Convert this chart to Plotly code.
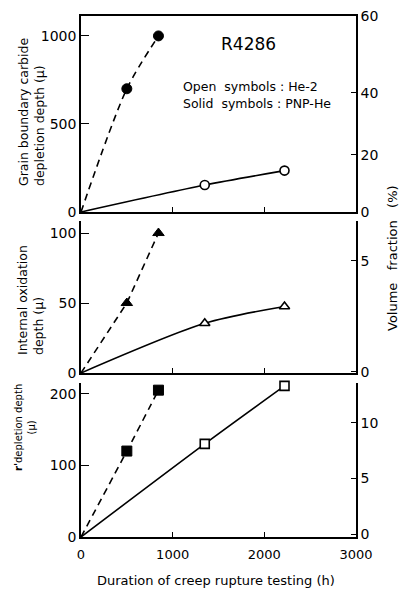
import plotly.graph_objects as go

# ---- data ----
hours_pnp = [0, 500, 845]      # solid symbols (PNP-He)
hours_he2 = [0, 1350, 2220]    # open symbols (He-2)

carbide_pnp = [0, 700, 1000]
carbide_he2 = [0, 153, 235]

oxid_pnp = [0, 50, 100]
oxid_he2 = [0, 35.5, 47.5]

gamma_pnp = [0, 120, 205]
gamma_he2 = [0, 130, 211]

x_ticks = [0, 1000, 2000, 3000]
top_left_ticks = [0, 500, 1000]
top_right_labels = ["0", "20", "40", "60"]
top_right_pos = [0, 324, 676, 1114]   # nonlinear right scale of the original, in left-axis units
mid_left_ticks = [0, 50, 100]
mid_right_ticks = [0, 5]
bot_left_ticks = [0, 100, 200]
bot_right_ticks = [0, 5, 10]

W, H = 403, 594
FONT = "DejaVu Sans"

def px(x):
    return x / W

def py(y):
    return 1 - y / H

fig = go.Figure()

panels = [
    ("x", "y", "y2", hours_pnp, carbide_pnp, hours_he2, carbide_he2, "circle", "spline"),
    ("x2", "y3", "y4", hours_pnp, oxid_pnp, hours_he2, oxid_he2, "triangle-up", "linear"),
    ("x3", "y5", "y6", hours_pnp, gamma_pnp, hours_he2, gamma_he2, "square", "spline"),
]
for xa, ya, yr, xs, ys, xo, yo, sym, dshape in panels:
    fig.add_trace(go.Scatter(x=xs, y=ys, xaxis=xa, yaxis=ya, mode="lines",
                             line=dict(color="black", width=1.6, dash="7px,5px", shape=dshape, smoothing=0.8),
                             hoverinfo="skip", showlegend=False))
    fig.add_trace(go.Scatter(x=xo, y=yo, xaxis=xa, yaxis=ya, mode="lines",
                             line=dict(color="black", width=1.6, shape="spline", smoothing=0.8),
                             hoverinfo="skip", showlegend=False))
    fig.add_trace(go.Scatter(x=xs[1:], y=ys[1:], xaxis=xa, yaxis=ya, mode="markers", cliponaxis=False,
                             marker=dict(symbol=sym, size=10, color="black", line=dict(color="black", width=1)),
                             showlegend=False))
    fig.add_trace(go.Scatter(x=xo[1:], y=yo[1:], xaxis=xa, yaxis=ya, mode="markers", cliponaxis=False,
                             marker=dict(symbol=sym, size=9, color="white", line=dict(color="black", width=1.6)),
                             showlegend=False))
    # invisible trace so the right-hand axis is drawn
    fig.add_trace(go.Scatter(x=[None], y=[None], xaxis=xa, yaxis=yr, mode="markers",
                             hoverinfo="skip", showlegend=False))

xdom = [px(81), px(356)]
dom_top = [py(212), py(15.5)]
dom_mid = [py(373), py(221)]
dom_bot = [py(537), py(383)]

tickfont = dict(family=FONT, size=14, color="black")
common_x = dict(range=[0, 3000], domain=xdom, showline=True, linecolor="black", linewidth=1.6,
                ticks="inside", ticklen=5, tickwidth=1.4, tickcolor="black", ticklabelstandoff=5,
                tickvals=x_ticks, showgrid=False, zeroline=False, automargin=False,
                tickfont=dict(family=FONT, size=13, color="black"))
common_y = dict(showline=True, linecolor="black", linewidth=1.6, ticks="inside", ticklen=8,
                tickwidth=1.4, tickcolor="black", showgrid=False, zeroline=False, automargin=False,
                tickfont=tickfont)
right_y = dict(common_y, side="right", ticklen=5)

fig.update_layout(
    width=W, height=H, margin=dict(l=0, r=0, t=0, b=0, autoexpand=False),
    plot_bgcolor="white", paper_bgcolor="white", showlegend=False,
    xaxis=dict(common_x, anchor="y", showticklabels=False, mirror=True),
    xaxis2=dict(common_x, anchor="y3", showticklabels=False),
    xaxis3=dict(common_x, anchor="y5", showticklabels=True),
    yaxis=dict(common_y, domain=dom_top, range=[0, 1116], tickvals=top_left_ticks, anchor="x"),
    yaxis2=dict(right_y, domain=dom_top, range=[0, 1116], overlaying="y", anchor="x",
                tickvals=top_right_pos, ticktext=top_right_labels),
    yaxis3=dict(common_y, domain=dom_mid, range=[0, 108.6], tickvals=mid_left_ticks, anchor="x2"),
    yaxis4=dict(right_y, domain=dom_mid, range=[-0.05, 6.8], overlaying="y3", anchor="x2",
                tickvals=mid_right_ticks),
    yaxis5=dict(common_y, domain=dom_bot, range=[0, 215], tickvals=bot_left_ticks, anchor="x3"),
    yaxis6=dict(right_y, domain=dom_bot, range=[-0.27, 13.6], overlaying="y5", anchor="x3",
                tickvals=bot_right_ticks),
)

def ann(text, x, y, size=12, angle=0, align="center", xanchor="center", yanchor="middle"):
    fig.add_annotation(text=text, x=px(x), y=py(y), xref="paper", yref="paper", showarrow=False,
                       textangle=angle, align=align, xanchor=xanchor, yanchor=yanchor,
                       font=dict(family=FONT, size=size, color="black"))

ann("R4286", 248, 44, size=17)
ann("Open  symbols : He-2", 181, 86, size=12.5, xanchor="left")
ann("Solid  symbols : PNP-He", 181, 104, size=12.5, xanchor="left")

ann("Grain boundary carbide<br>depletion depth (μ)", 31, 112, size=12.5, angle=-90, align="left")
ann("Internal oxidation<br>depth (μ)", 30, 300, size=12.5, angle=-90, align="left")
ann("<b>r'</b>depletion depth<br>(μ)", 25, 428, size=10, angle=-90, align="center")
ann("Volume   fraction   (%)", 392, 258, size=13, angle=-90)
ann("Duration of creep rupture testing (h)", 216, 580, size=13)

fig.write_html("out.html")
